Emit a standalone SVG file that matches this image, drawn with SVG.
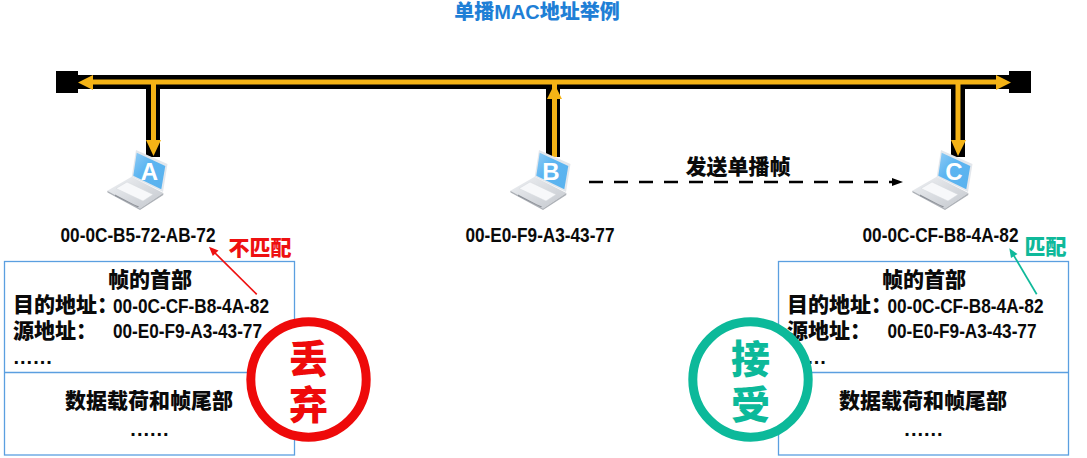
<svg xmlns="http://www.w3.org/2000/svg" xmlns:xlink="http://www.w3.org/1999/xlink" width="1087" height="458" viewBox="0 0 1087 458">
<style>
text{font-family:"Liberation Sans","Noto Sans CJK SC",sans-serif;font-weight:700;fill:#0a0a0a}
.cjk{font-family:"Noto Sans CJK SC","Liberation Sans",sans-serif;font-size:21px;font-weight:900}
.mac{font-size:20px}
.dots{font-size:20px}
.m{text-anchor:middle}
.box{fill:#fff;stroke:#5b9fe0;stroke-width:1.3}
.blk{fill:none;stroke:#000;stroke-width:14}
.yel{fill:none;stroke:#f4b316;stroke-width:5}
.head{fill:#f4b316}
.lt{fill:#fff;font-size:24px;text-anchor:middle}
.stamp{fill:#fff;stroke-width:9}
.big{font-family:"Noto Sans CJK SC",sans-serif;font-size:39px;text-anchor:middle;font-weight:900}
</style>
<defs>
<linearGradient id="scr" x1="0" y1="0" x2="1" y2="1"><stop offset="0" stop-color="#8fcbf5"/><stop offset="0.4" stop-color="#5cb5f1"/><stop offset="1" stop-color="#5ab2ee"/></linearGradient>
<linearGradient id="base" x1="0" y1="0" x2="1" y2="1"><stop offset="0" stop-color="#eef0f3"/><stop offset="1" stop-color="#c4c8ce"/></linearGradient>
<g id="laptop">
<polygon points="131.7,176.7 163.3,193 140,208.5 107.3,190.7" fill="url(#base)"/>
<polygon points="107.3,190.7 140,208.5 163.3,193 163.3,195 140,210 107.5,192.5" fill="#aeb2b8"/>
<polygon points="127,182 153,194.5 143,201 116,188.5" fill="#f7f8fa" stroke="#d5d8dc" stroke-width=".5"/>
<polygon points="115,194.5 134,204.5 139,206.5 138,207.5 115,196" fill="#8d9198"/>
<polygon points="136,150 167.5,164 163,192 131.7,176.7" fill="#e3e7ec"/>
<polygon points="136.7,152.7 165.3,166 161.3,189.3 133.3,175.7" fill="url(#scr)"/>
</g>
</defs>
<text id="title" class="m" x="537" y="19" style="fill:#1f7fd6;font-size:20px;font-weight:900">单播MAC地址举例</text>
<g id="frameLeft">
<rect class="box" x="4.500" y="261.500" width="290" height="193.500"/>
<path class="box" d="M4.500 372.500H294.500"/>
<text class="cjk m" x="150" y="287">帧的首部</text>
<text class="cjk" x="13" y="312">目的地址：</text>
<text class="cjk" x="13" y="338">源地址：</text>
<text class="mac" x="113" y="313" textLength="156" lengthAdjust="spacingAndGlyphs">00-0C-CF-B8-4A-82</text>
<text class="mac" x="113" y="338" textLength="149" lengthAdjust="spacingAndGlyphs">00-E0-F9-A3-43-77</text>
<text class="dots" x="13.500" y="364" letter-spacing="1">......</text>
<text class="cjk m" x="149" y="408">数据载荷和帧尾部</text>
<text class="dots m" x="150" y="436" letter-spacing="1">......</text>
</g>
<g id="frameRight">
<rect class="box" x="778.500" y="261.500" width="290" height="193.500"/>
<path class="box" d="M778.500 372.500H1068.500"/>
<text class="cjk m" x="924" y="287">帧的首部</text>
<text class="cjk" x="787" y="312">目的地址：</text>
<text class="cjk" x="787" y="338">源地址：</text>
<text class="mac" x="887.500" y="313" textLength="156" lengthAdjust="spacingAndGlyphs">00-0C-CF-B8-4A-82</text>
<text class="mac" x="887.500" y="338" textLength="149" lengthAdjust="spacingAndGlyphs">00-E0-F9-A3-43-77</text>
<text class="dots" x="787.500" y="364" letter-spacing="1">......</text>
<text class="cjk m" x="923" y="408">数据载荷和帧尾部</text>
<text class="dots m" x="924" y="436" letter-spacing="1">......</text>
</g>
<g id="connectors">
<path class="blk" d="M66 82H1020"/>
<rect x="56" y="71" width="22" height="22"/>
<rect x="1009" y="71" width="22" height="22"/>
<path class="blk" d="M153 82V157M553 82V157M958 82V157"/>
<path class="yel" d="M90 82H1000M153.500 82V142M554.500 82V157M958 82V142"/>
<path class="head" d="M78 82.500L93 75V90ZM1011 82.500L996 75V90ZM153.500 156L146 140H161ZM958 156L951 140H966ZM554.500 84L547 99H562Z"/>
<path d="M589 182H893" fill="none" stroke="#000" stroke-width="2.500" stroke-dasharray="14 11"/>
<path d="M903 182L892 178V186Z"/>
<path d="M256.700 294.300L212 250" fill="none" stroke="#ee1111" stroke-width="1.700"/>
<path d="M209 246.700L218.500 250.500L212.800 256Z" fill="#ee1111"/>
<path d="M1036.700 294.300L1012 252.500" fill="none" stroke="#0fb99a" stroke-width="1.700"/>
<path d="M1009.300 248.300L1017.500 254L1011 258Z" fill="#0fb99a"/>
</g>
<g id="nodeA"><use xlink:href="#laptop" href="#laptop"/><text class="lt" x="149.500" y="180">A</text><text class="mac" x="60.500" y="242" textLength="155" lengthAdjust="spacingAndGlyphs">00-0C-B5-72-AB-72</text></g>
<g id="nodeB"><use xlink:href="#laptop" href="#laptop" x="403"/><text class="lt" x="551" y="180">B</text><text class="mac" x="465.500" y="242" textLength="149" lengthAdjust="spacingAndGlyphs">00-E0-F9-A3-43-77</text></g>
<g id="nodeC"><use xlink:href="#laptop" href="#laptop" x="805"/><text class="lt" x="954" y="180">C</text><text class="mac" x="862.500" y="242" textLength="156" lengthAdjust="spacingAndGlyphs">00-0C-CF-B8-4A-82</text></g>
<text id="send" class="cjk m" x="738" y="174">发送单播帧</text>
<text id="noMatch" class="cjk m" x="260" y="255" style="fill:#ee1111">不匹配</text>
<text id="match" class="cjk m" x="1045.500" y="254" style="fill:#0fb99a">匹配</text>
<g id="discard">
<circle class="stamp" cx="308.500" cy="379.500" r="57.700" stroke="#ee0a0a"/>
<text class="big" x="308.500" y="373" style="fill:#ee0a0a">丢</text>
<text class="big" x="308.500" y="419" style="fill:#ee0a0a">弃</text>
</g>
<g id="accept">
<circle class="stamp" cx="750.500" cy="379.500" r="57.700" stroke="#0cb99a"/>
<text class="big" x="750.500" y="373" style="fill:#0cb99a">接</text>
<text class="big" x="750.500" y="419" style="fill:#0cb99a">受</text>
</g>
</svg>
